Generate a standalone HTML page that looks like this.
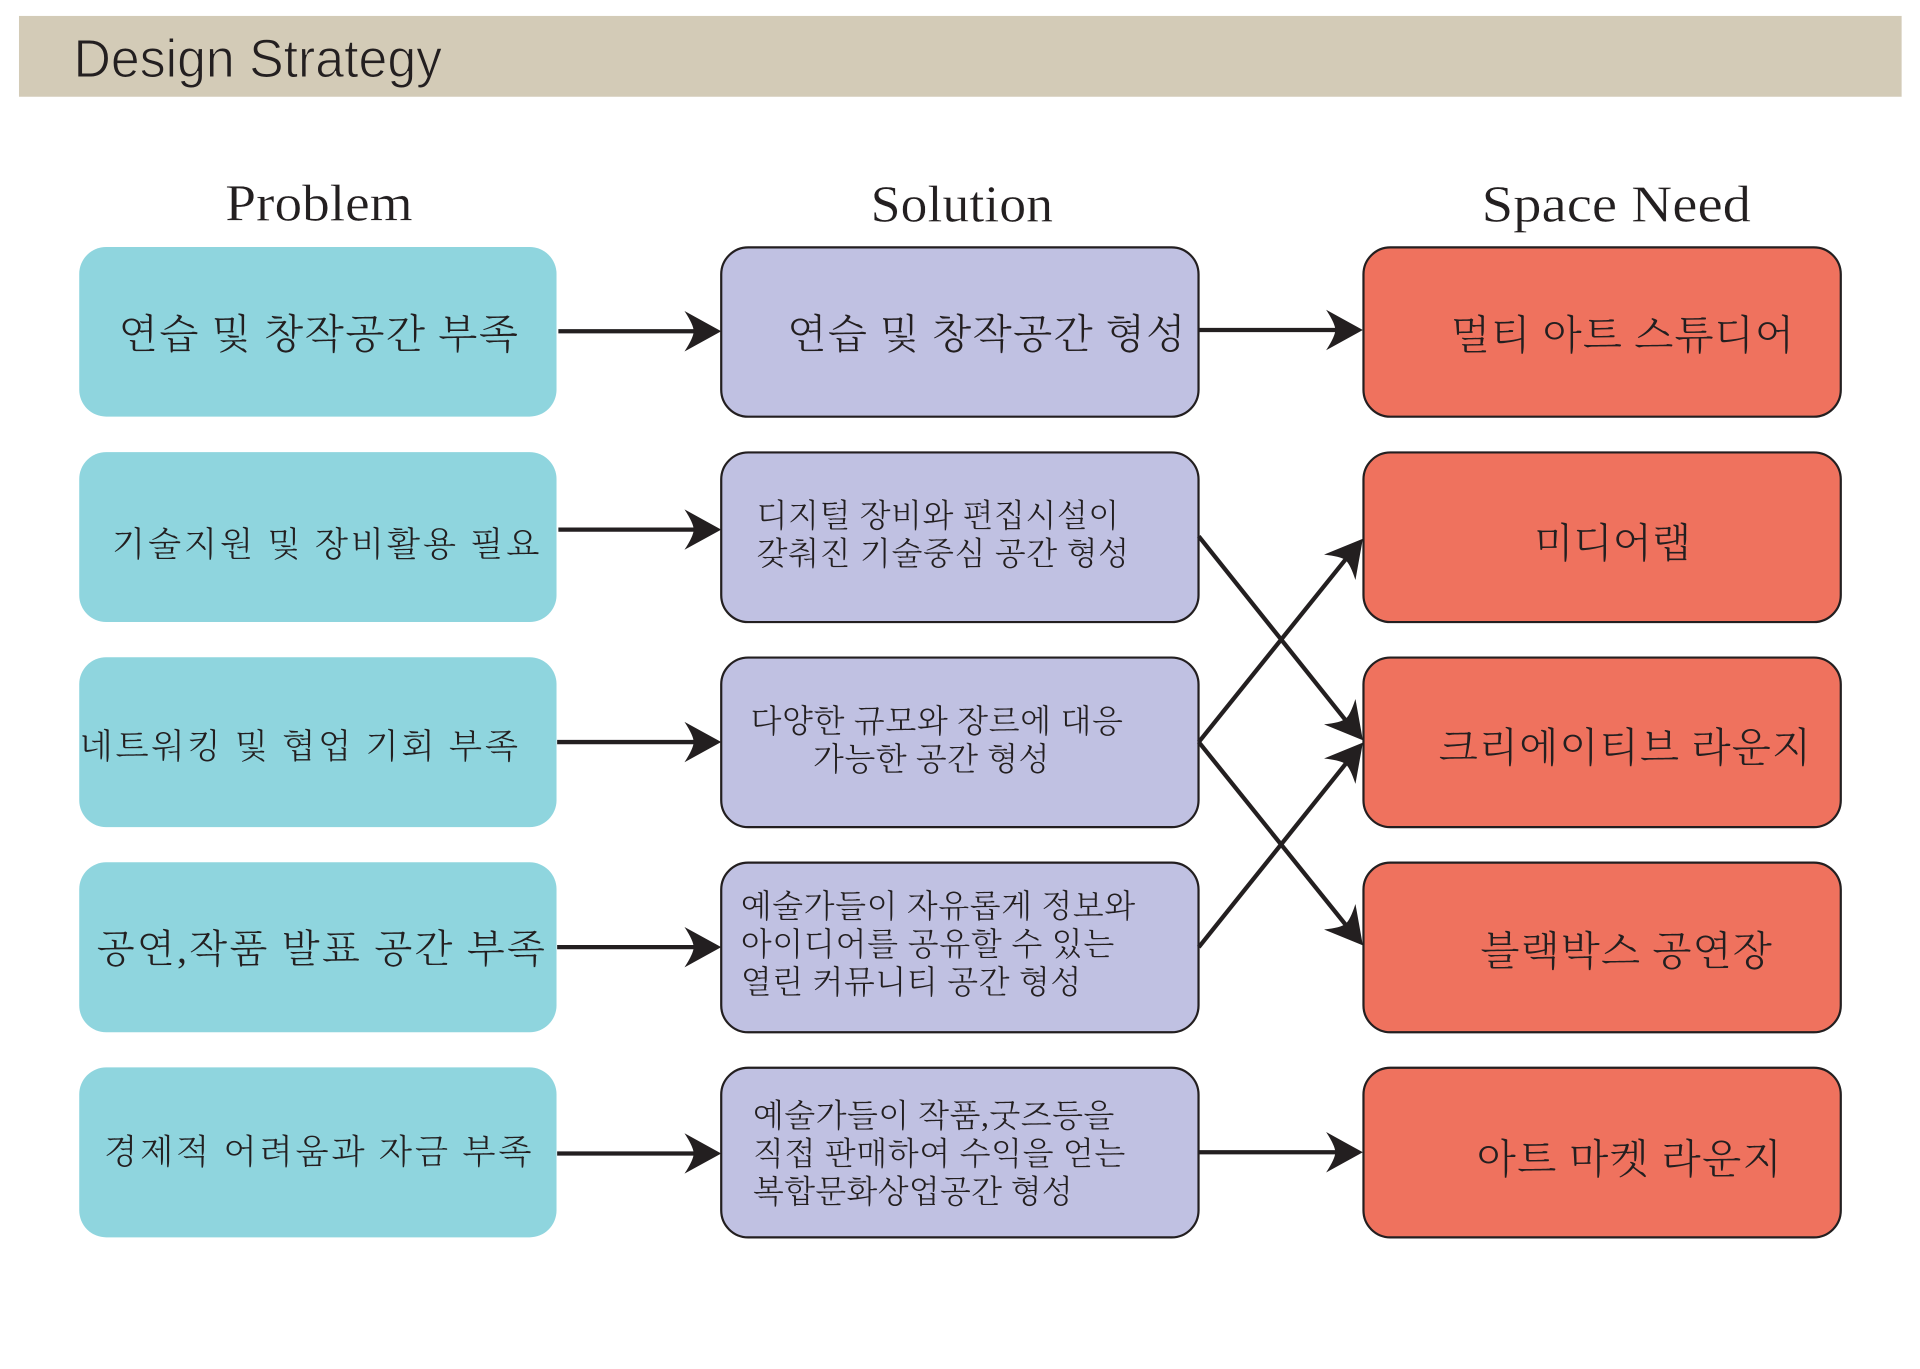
<!DOCTYPE html>
<html><head><meta charset="utf-8"><title>Design Strategy</title>
<style>
html,body{margin:0;padding:0;background:#fff}
svg{display:block}
.k{font-family:"Liberation Serif","Noto Serif CJK KR","Noto Serif CJK SC",serif;fill:#231f20;font-weight:300}
.h{font-family:"Liberation Serif",serif;fill:#231f20;font-size:42px}
</style></head><body>
<svg xmlns="http://www.w3.org/2000/svg" width="1920" height="1369" viewBox="0 0 1568 1118">
<defs>
<path id="ah" d="M0 0 L-30 -16.500 Q-22.500 -5 -22.500 0 Q-22.500 5 -30 16.500 Z" fill="#231f20"/>
</defs>
<rect width="1568" height="1118" fill="#fff"/>
<rect x="15.500" y="13" width="1537.500" height="66" fill="#d3cbb7"/>
<text x="60" y="63" font-family="'Liberation Sans',sans-serif" font-size="44" fill="#231f20" stroke="#d3cbb7" stroke-width="0.900" textLength="301" lengthAdjust="spacingAndGlyphs">Design Strategy</text>

<text class="h" x="184" y="180" textLength="153" lengthAdjust="spacingAndGlyphs" stroke="#fff" stroke-width="0.300">Problem</text>
<text class="h" x="711" y="181" textLength="149" lengthAdjust="spacingAndGlyphs" stroke="#fff" stroke-width="0.300">Solution</text>
<text class="h" x="1210" y="181" textLength="220" lengthAdjust="spacingAndGlyphs" stroke="#fff" stroke-width="0.300">Space Need</text>

<g fill="#8fd5de">
<rect x="64.700" y="201.700" width="389.800" height="138.500" rx="22"/>
<rect x="64.700" y="369.200" width="389.800" height="138.800" rx="22"/>
<rect x="64.700" y="536.700" width="389.800" height="138.800" rx="22"/>
<rect x="64.700" y="704.200" width="389.800" height="138.800" rx="22"/>
<rect x="64.700" y="871.700" width="389.800" height="138.800" rx="22"/>
</g>
<g fill="#c0c1e2" stroke="#231f20" stroke-width="1.800">
<rect x="589" y="202" width="389.800" height="138.300" rx="22"/>
<rect x="589" y="369.500" width="389.800" height="138.500" rx="22"/>
<rect x="589" y="537" width="389.800" height="138.500" rx="22"/>
<rect x="589" y="704.500" width="389.800" height="138.500" rx="22"/>
<rect x="589" y="872" width="389.800" height="138.500" rx="22"/>
</g>
<g fill="#ef725e" stroke="#231f20" stroke-width="1.800">
<rect x="1113.500" y="202" width="389.800" height="138.300" rx="22"/>
<rect x="1113.500" y="369.500" width="389.800" height="138.500" rx="22"/>
<rect x="1113.500" y="537" width="389.800" height="138.500" rx="22"/>
<rect x="1113.500" y="704.500" width="389.800" height="138.500" rx="22"/>
<rect x="1113.500" y="872" width="389.800" height="138.500" rx="22"/>
</g>

<g stroke="#231f20" stroke-width="3.500" fill="none">
<path d="M456 270.500H570"/><path d="M456 432.500H570"/><path d="M455 606H570"/><path d="M455 773.500H570"/><path d="M455 942H570"/>
<path d="M979 269.500H1094"/><path d="M979 941H1094"/>
<path d="M979 438L1102 592"/><path d="M979 606L1102 453"/><path d="M979 606L1102 759"/><path d="M979 773.500L1102 620"/>
</g>
<use href="#ah" transform="translate(589 270.500)"/>
<use href="#ah" transform="translate(589 432.500)"/>
<use href="#ah" transform="translate(589 606)"/>
<use href="#ah" transform="translate(589 773.500)"/>
<use href="#ah" transform="translate(589 942)"/>
<use href="#ah" transform="translate(1113 269.500)"/>
<use href="#ah" transform="translate(1113 941)"/>
<use href="#ah" transform="translate(1113 604.500) rotate(51)"/>
<use href="#ah" transform="translate(1113 440) rotate(-51)"/>
<use href="#ah" transform="translate(1113 772) rotate(51)"/>
<use href="#ah" transform="translate(1113 606.500) rotate(-51)"/>

<g class="k">
<text class="k" x="97" y="284" font-size="33" textLength="326">연습 및 창작공간 부족</text>
<text class="k" x="91.500" y="454" font-size="28" textLength="349">기술지원 및 장비활용 필요</text>
<text class="k" x="65" y="619" font-size="28" textLength="358">네트워킹 및 협업 기회 부족</text>
<text class="k" x="79" y="786" font-size="32" textLength="366">공연,작품 발표 공간 부족</text>
<text class="k" x="85" y="950" font-size="28" textLength="349">경제적 어려움과 자금 부족</text>

<text class="k" x="643" y="284" font-size="33" textLength="325">연습 및 창작공간 형성</text>
<text class="k" x="618" y="430" font-size="26" textLength="296">디지털 장비와 편집시설이</text>
<text class="k" x="618" y="461" font-size="26" textLength="304">갖춰진 기술중심 공간 형성</text>
<text class="k" x="613" y="598" font-size="26" textLength="304">다양한 규모와 장르에 대응</text>
<text class="k" x="664" y="629" font-size="26" textLength="193">가능한 공간 형성</text>
<text class="k" x="605" y="749" font-size="26" textLength="322">예술가들이 자유롭게 정보와</text>
<text class="k" x="605" y="780" font-size="26" textLength="305">아이디어를 공유할 수 있는</text>
<text class="k" x="605" y="811" font-size="26" textLength="278">열린 커뮤니티 공간 형성</text>
<text class="k" x="615" y="920" font-size="26" textLength="295">예술가들이 작품,굿즈등을</text>
<text class="k" x="615" y="951" font-size="26" textLength="304">직접 판매하여 수익을 얻는</text>
<text class="k" x="615" y="982" font-size="26" textLength="261">복합문화상업공간 형성</text>

<text class="k" x="1185" y="285" font-size="33" textLength="280">멀티 아트 스튜디어</text>
<text class="k" x="1253" y="455" font-size="33" textLength="128">미디어랩</text>
<text class="k" x="1175" y="622" font-size="33" textLength="304">크리에이티브 라운지</text>
<text class="k" x="1209" y="788" font-size="33" textLength="238">블랙박스 공연장</text>
<text class="k" x="1206" y="958" font-size="33" textLength="249">아트 마켓 라운지</text>
</g>
</svg>
</body></html>
